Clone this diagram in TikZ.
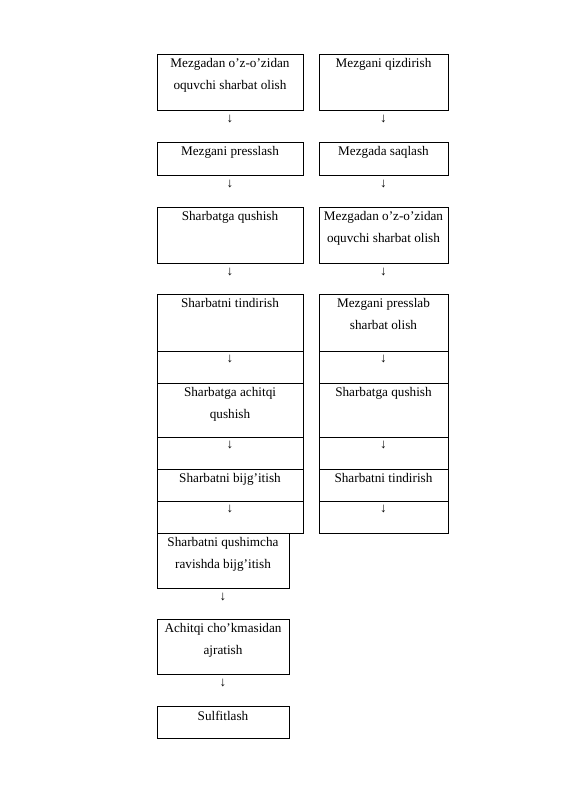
\documentclass[tikz,border=0pt]{standalone}
\usepackage{fontspec}
\setmainfont{Liberation Serif}
\begin{document}
\begin{tikzpicture}[x=1pt,y=-1pt,
  stepbox/.style={draw,line width=0.6pt,anchor=north west,inner sep=0pt,outer sep=0pt},
  steptext/.style={anchor=north,align=center,inner sep=0pt,font=\fontsize{13.2}{22}\selectfont},
  downarrow/.style={inner sep=0pt,font=\fontsize{13.2}{16}\selectfont}]
  \useasboundingbox (0,0) rectangle (565,800);
  % left column
  \node[stepbox,minimum width=146,minimum height=56] (l1) at (157,54) {};
  \node[steptext] (l1t) at ([yshift=-4.5pt]l1.north) {Mezgadan o’z-o’zidan\\oquvchi sharbat olish};
  \node[stepbox,minimum width=146,minimum height=33] (l2) at (157,142) {};
  \node[steptext] (l2t) at ([yshift=-4.5pt]l2.north) {Mezgani presslash};
  \node[stepbox,minimum width=146,minimum height=56] (l3) at (157,207) {};
  \node[steptext] (l3t) at ([yshift=-4.5pt]l3.north) {Sharbatga qushish};
  \node[stepbox,minimum width=146,minimum height=57] (l4) at (157,294) {};
  \node[steptext] (l4t) at ([yshift=-4.5pt]l4.north) {Sharbatni tindirish};
  \node[stepbox,minimum width=146,minimum height=32] (l4a) at (l4.south west) {};
  \node[stepbox,minimum width=146,minimum height=54] (l5) at (l4a.south west) {};
  \node[steptext] (l5t) at ([yshift=-4.5pt]l5.north) {Sharbatga achitqi\\qushish};
  \node[stepbox,minimum width=146,minimum height=32] (l5a) at (l5.south west) {};
  \node[stepbox,minimum width=146,minimum height=32] (l6) at (l5a.south west) {};
  \node[steptext] (l6t) at ([yshift=-4.5pt]l6.north) {Sharbatni bijg’itish};
  \node[stepbox,minimum width=146,minimum height=32] (l6a) at (l6.south west) {};
  \node[stepbox,minimum width=132,minimum height=55] (l7) at (l6a.south west) {};
  \node[steptext] (l7t) at ([yshift=-4.5pt]l7.north) {Sharbatni qushimcha\\ravishda bijg’itish};
  \node[stepbox,minimum width=132,minimum height=55] (l8) at (157,619) {};
  \node[steptext] (l8t) at ([yshift=-4.5pt]l8.north) {Achitqi cho’kmasidan\\ajratish};
  \node[stepbox,minimum width=132,minimum height=32] (l9) at (157,706) {};
  \node[steptext] (l9t) at ([yshift=-4.5pt]l9.north) {Sulfitlash};
  % right column
  \node[stepbox,minimum width=129,minimum height=56] (r1) at (319,54) {};
  \node[steptext] (r1t) at ([yshift=-4.5pt]r1.north) {Mezgani qizdirish};
  \node[stepbox,minimum width=129,minimum height=33] (r2) at (319,142) {};
  \node[steptext] (r2t) at ([yshift=-4.5pt]r2.north) {Mezgada saqlash};
  \node[stepbox,minimum width=129,minimum height=56] (r3) at (319,207) {};
  \node[steptext] (r3t) at ([yshift=-4.5pt]r3.north) {Mezgadan o’z-o’zidan\\oquvchi sharbat olish};
  \node[stepbox,minimum width=129,minimum height=57] (r4) at (319,294) {};
  \node[steptext] (r4t) at ([yshift=-4.5pt]r4.north) {Mezgani presslab\\sharbat olish};
  \node[stepbox,minimum width=129,minimum height=32] (r4a) at (r4.south west) {};
  \node[stepbox,minimum width=129,minimum height=54] (r5) at (r4a.south west) {};
  \node[steptext] (r5t) at ([yshift=-4.5pt]r5.north) {Sharbatga qushish};
  \node[stepbox,minimum width=129,minimum height=32] (r5a) at (r5.south west) {};
  \node[stepbox,minimum width=129,minimum height=32] (r6) at (r5a.south west) {};
  \node[steptext] (r6t) at ([yshift=-4.5pt]r6.north) {Sharbatni tindirish};
  \node[stepbox,minimum width=129,minimum height=32] (r6a) at (r6.south west) {};
  % arrows below the boxes
  \foreach \b in {l1,l2,l3,l7,l8,r1,r2,r3}
    \node[downarrow] (\b d) at ([yshift=-9pt]\b.south) {↓};
  % arrows in the cells
  \foreach \b in {l4a,l5a,l6a,r4a,r5a,r6a}
    \node[downarrow] (\b d) at ([yshift=-7.5pt]\b.north) {↓};
\end{tikzpicture}
\end{document}
